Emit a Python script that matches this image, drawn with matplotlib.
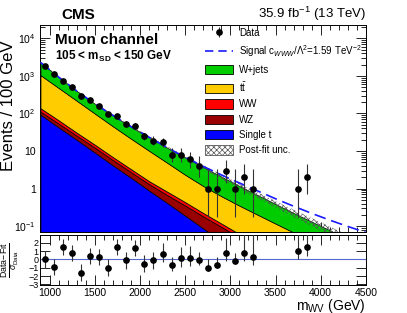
import math
import numpy as np
import matplotlib
matplotlib.use('Agg')
import matplotlib.pyplot as plt
from matplotlib.patches import Patch
from matplotlib.lines import Line2D
from matplotlib.ticker import FixedLocator, FixedFormatter, MultipleLocator, LogLocator, NullFormatter

plt.rcParams['font.family'] = ['Liberation Sans', 'DejaVu Sans']
plt.rcParams['mathtext.fontset'] = 'custom'
plt.rcParams['mathtext.rm'] = 'Liberation Sans'
plt.rcParams['mathtext.it'] = 'Liberation Sans:italic'
plt.rcParams['mathtext.bf'] = 'Liberation Sans:bold'
plt.rcParams['hatch.linewidth'] = 0.5

# data: events per 100 GeV bin
bin_centers = [950, 1050, 1150, 1250, 1350, 1450, 1550, 1650, 1750, 1850,
               1950, 2050, 2150, 2250, 2350, 2450, 2550, 2650, 2750, 2850,
               2950, 3050, 3150, 3250, 3350, 3450, 3550, 3650, 3750, 3850,
               3950, 4050, 4150, 4250, 4350, 4450]
counts = [1834, 1123, 745, 497, 297, 222, 156, 97, 88, 53,
          47, 25, 19, 17, 8, 8, 6, 4, 1, 1,
          3, 1, 2, 1, 0, 0, 0, 0, 1, 2,
          0, 0, 0, 0, 0, 0]

# fitted background shapes (stack components), read at these masses
curve_mass = [900, 1100, 1300, 1500, 1700, 1900, 2100, 2300, 2500, 2700,
              2900, 3100, 3300, 3500, 3700, 3900, 4100, 4300, 4500]
singlet = [93.3, 42.7, 20.0, 9.12, 4.17, 1.95, 0.891, 0.417, 0.191, 0.0871,
           0.0398, 0.0186, 0.0085, 0.0040, 0.0018, 0.00083, 0.00039, 0.00018, 0.000083]
wz = [18.9, 11.0, 5.7, 3.2, 1.58, 0.80, 0.427, 0.259, 0.164, 0.095,
      0.056, 0.0315, 0.0172, 0.0095, 0.0051, 0.0028, 0.0015, 0.0008, 0.00043]
ww = [25.8, 12.4, 5.2, 2.5, 1.17, 0.56, 0.267, 0.156, 0.082, 0.042,
      0.022, 0.0116, 0.0067, 0.0035, 0.002, 0.0011, 0.00055, 0.00029, 0.00017]
ttbar = [909, 413, 188, 85, 38.8, 18.1, 8.6, 4.07, 1.90, 0.95,
         0.51, 0.29, 0.17, 0.100, 0.059, 0.034, 0.020, 0.0116, 0.0067]
wjets = [1244, 454, 179, 82, 43.4, 23.3, 13.2, 7.4, 4.42, 2.55,
         1.46, 0.82, 0.472, 0.271, 0.156, 0.093, 0.055, 0.033, 0.0195]
signal = [0, 0, 0, 0, 0, 0.01, 0.02, 0.05, 0.10, 0.17,
          0.23, 0.24, 0.195, 0.148, 0.115, 0.087, 0.067, 0.052, 0.041]
unc_rel = [0.04, 0.04, 0.05, 0.05, 0.06, 0.07, 0.08, 0.09, 0.10, 0.12,
           0.14, 0.16, 0.18, 0.20, 0.22, 0.24, 0.26, 0.28, 0.30]

# pulls (Data-Fit)/sigma for bins with data
pull_mass = [950, 1050, 1150, 1250, 1350, 1450, 1550, 1650, 1750, 1850,
             1950, 2050, 2150, 2250, 2350, 2450, 2550, 2650, 2750, 2850,
             2950, 3050, 3150, 3250, 3750, 3850]
pulls = [0.0, -0.9, 1.5, 0.8, -1.6, 0.4, 0.3, -1.0, 1.5, -0.1,
         1.4, -0.5, -0.1, 0.7, -0.64, 0.12, 0.16, -0.08, -1.0, -0.64,
         0.8, -0.2, 0.84, 0.32, 1.04, 1.48]
pull_lo = [1, 1, 1, 1, 1, 1, 1, 1, 1, 1,
           1, 1, 1, 1, 0.7, 1, 1, 0.6, 0.36, 0.36,
           1, 0.36, 1, 1, 1, 1]
pull_hi = [1, 1, 1, 1, 1, 1, 1, 1, 1, 1,
           1, 1, 1, 1.27, 1, 1.42, 1.5, 1, 1, 1,
           1.8, 1, 2.8, 2.8, 2.8, 2.8]


def poisson_cdf(k, mu):
    return sum(math.exp(i * math.log(mu) - mu - math.lgamma(i + 1)) for i in range(k + 1))


def garwood(n):
    """68% central Poisson interval (lower, upper error)"""
    if n > 60:
        return math.sqrt(n) - 0.5, math.sqrt(n) + 0.5
    a = 0.158655
    lo, hi = 0.0, n + 20.0
    for _ in range(60):
        mid = 0.5 * (lo + hi)
        if poisson_cdf(n, mid) > a:
            lo = mid
        else:
            hi = mid
    up = 0.5 * (lo + hi)
    low = 0.0
    if n > 0:
        lo, hi = 1e-6, float(n)
        for _ in range(60):
            mid = 0.5 * (lo + hi)
            if 1 - poisson_cdf(n - 1, mid) < a:
                lo = mid
            else:
                hi = mid
        low = 0.5 * (lo + hi)
    return n - low, up - n


fig = plt.figure(figsize=(4.07, 3.13), dpi=100)
ax = fig.add_axes([0.0995, 0.259, 0.7995, 0.661])
rax = fig.add_axes([0.0995, 0.089, 0.7995, 0.160])

x = np.array(curve_mass, dtype=float)
layers = [(singlet, '#0000ff'), (wz, '#990000'), (ww, '#ff0000'),
          (ttbar, '#ffcc00'), (wjets, '#00cc00')]
base = np.zeros_like(x)
for vals, col in layers:
    top = base + np.array(vals)
    ax.fill_between(x, np.maximum(base, 1e-6), top, facecolor=col,
                    edgecolor='black', linewidth=0.5, zorder=2)
    base = top
total = base
ax.fill_between(x, total * (1 - np.array(unc_rel)), total * (1 + np.array(unc_rel)),
                facecolor='none', edgecolor='#555555', hatch='xxxxxx', linewidth=0, zorder=3)
ax.plot(x, total + np.array(signal), color='#1a1aff', lw=1.2, dashes=(7, 3.5), zorder=4)

# data points
n = np.array(counts)
mask = n > 0
errs = np.array([garwood(int(c)) for c in n[mask]])
data_h = ax.errorbar(np.array(bin_centers)[mask], n[mask], yerr=errs.T, fmt='o',
                     color='black', ms=3.8, elinewidth=0.8, ecolor='#333333',
                     capsize=0, zorder=5)

ax.set_yscale('log')
ax.set_xlim(900, 4500)
ax.set_ylim(0.07, 2.26e4)
ax.yaxis.set_major_locator(FixedLocator([0.1, 1, 10, 100, 1e3, 1e4]))
ax.yaxis.set_major_formatter(FixedFormatter(['10$^{-1}$', '1', '10', '10$^{2}$', '10$^{3}$', '10$^{4}$']))
ax.yaxis.set_minor_locator(LogLocator(base=10, subs=np.arange(2, 10), numticks=20))
ax.yaxis.set_minor_formatter(NullFormatter())
ax.xaxis.set_major_locator(MultipleLocator(500))
ax.xaxis.set_minor_locator(MultipleLocator(100))
ax.tick_params(axis='both', which='both', direction='in', top=True, right=True,
               labelsize=7.5, width=0.6)
ax.tick_params(which='major', length=7)
ax.tick_params(which='minor', length=3.5)
ax.tick_params(axis='x', labelbottom=False)
ax.set_ylabel('Events / 100 GeV', fontsize=12)
ax.yaxis.set_label_coords(-0.075, 0.61)

fig.text(0.152, 0.952, 'CMS', fontsize=11, fontweight='bold', va='center')
fig.text(0.899, 0.955, '35.9 fb$^{-1}$ (13 TeV)', fontsize=9.5, ha='right', va='center')
ax.text(0.045, 0.928, 'Muon channel', transform=ax.transAxes, fontsize=11,
        fontweight='bold', va='center')
ax.text(0.045, 0.85, r'105 < m$_{\mathbf{SD}}$ < 150 GeV', transform=ax.transAxes,
        fontsize=8.5, fontweight='bold', va='center')

handles = [data_h,
           Line2D([], [], color='#1a1aff', lw=1.2, dashes=(5, 3)),
           Patch(facecolor='#00cc00', edgecolor='black', lw=0.6),
           Patch(facecolor='#ffcc00', edgecolor='black', lw=0.6),
           Patch(facecolor='#ff0000', edgecolor='black', lw=0.6),
           Patch(facecolor='#990000', edgecolor='black', lw=0.6),
           Patch(facecolor='#0000ff', edgecolor='black', lw=0.6),
           Patch(facecolor='white', edgecolor='#555555', hatch='xxxxxx', lw=0.6)]
labels = ['Data', r'Signal c$_{WWW}$/$\Lambda^{2}$=1.59 TeV$^{-2}$', 'W+jets',
          r't$\bar{\mathrm{t}}$', 'WW', 'WZ', 'Single t', 'Post-fit unc.']
ax.legend(handles, labels, loc='upper left', bbox_to_anchor=(0.5, 0.995),
          frameon=False, fontsize=7, handlelength=2.9, handleheight=1.1,
          handletextpad=0.6, labelspacing=0.55, borderaxespad=0, borderpad=0.2)

# pull panel
rax.errorbar(pull_mass, pulls, yerr=[pull_lo, pull_hi], fmt='o', color='black',
             ms=3.8, elinewidth=0.8, ecolor='#333333', capsize=0, zorder=3)
rax.axhline(0, color='#5566cc', lw=0.8, zorder=2)
rax.set_xlim(900, 4500)
rax.set_ylim(-3.1, 2.95)
rax.yaxis.set_major_locator(FixedLocator([-3, -2, -1, 0, 1, 2]))
rax.xaxis.set_major_locator(MultipleLocator(500))
rax.xaxis.set_minor_locator(MultipleLocator(100))
rax.tick_params(axis='both', which='both', direction='in', top=True, right=True,
                labelsize=7.5, width=0.6, pad=2)
rax.tick_params(axis='y', labelsize=6.5, pad=1.5)
rax.tick_params(which='major', length=7)
rax.tick_params(which='minor', length=3.5)
rax.set_ylabel(r'$\frac{\mathrm{Data\!-\!Fit}}{\sigma_{\mathrm{Data}}}$', fontsize=9)
rax.yaxis.set_label_coords(-0.06, 0.5)
rax.set_xlabel('m$_{\\mathrm{WV}}$ (GeV)', fontsize=10, loc='right', labelpad=-1)

for a in (ax, rax):
    for s in a.spines.values():
        s.set_linewidth(0.7)

fig.savefig('out.png', dpi=100)
